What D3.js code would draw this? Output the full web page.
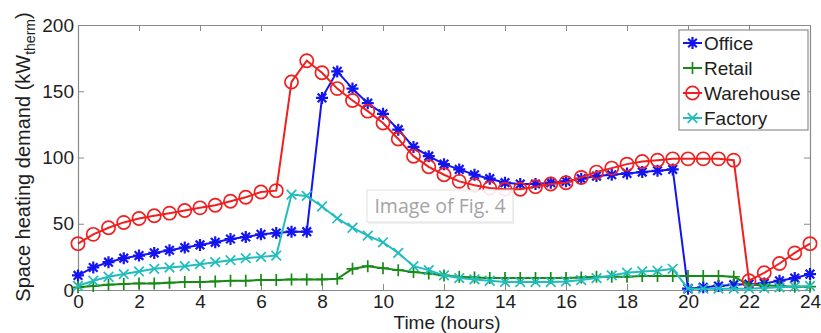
<!DOCTYPE html>
<html>
<head>
<meta charset="utf-8">
<script src="https://cdn.jsdelivr.net/npm/d3@7"></script>
<style>
  body { margin: 0; background: #fff; }
  svg { display: block; font-family: "Liberation Sans", Arial, sans-serif; }
</style>
</head>
<body>
<div id="chart"></div>
<script>
// time of day (hours), half-hour steps
var hours = [0, 0.5, 1, 1.5, 2, 2.5, 3, 3.5, 4, 4.5, 5, 5.5, 6, 6.5, 7, 7.5, 8, 8.5, 9, 9.5,
  10, 10.5, 11, 11.5, 12, 12.5, 13, 13.5, 14, 14.5, 15, 15.5, 16, 16.5, 17, 17.5, 18, 18.5, 19, 19.5,
  20, 20.5, 21, 21.5, 22, 22.5, 23, 23.5, 24];

var office = [11, 17, 21, 24, 26, 28, 30, 32, 34, 36, 38.5, 40, 42, 43, 44, 44, 145, 165, 152, 141,
  133, 121, 108, 101, 95, 91, 87, 84, 81, 80, 80, 81, 82, 84, 86, 87, 88, 89, 90, 91,
  1, 2, 3, 4, 4.5, 5, 7, 9, 12];
var retail = [2, 3, 4, 4.5, 5, 5, 5.5, 6, 6, 6.5, 7, 7, 7.5, 7.5, 8, 8, 8, 8.5, 16, 18,
  16.5, 15, 13.5, 12.5, 11, 10, 9.5, 9, 9, 9, 9, 9, 9, 9.5, 10, 10, 10, 10.5, 10.5, 10.5,
  10.5, 10.5, 10.5, 10, 4, 3.5, 3, 2.5, 2.5];
var warehouse = [35, 42, 47, 51, 54, 56, 58, 60, 62, 64, 67, 70, 74, 75, 157, 173, 164, 152, 143, 135,
  126, 114, 101, 93, 87, 82, 79, 77, 76, 76, 78, 80, 81, 85, 89, 92, 95, 97, 98, 99,
  99, 99, 99, 98, 7, 13, 20, 28, 35];
var factory = [3, 7, 10, 12, 14, 16, 17, 18, 19.5, 21, 22.5, 24, 25, 26, 72, 71, 63, 54, 47, 41,
  36, 28, 18, 15, 11, 9, 8, 7, 6, 6, 6, 6, 6.5, 7.5, 9, 11, 13, 14, 14.5, 16,
  1, 1, 1, 1, 1, 1.5, 2, 2.5, 3];

var seriesNames = ["Office", "Retail", "Warehouse", "Factory"];
var xTicks = [0, 2, 4, 6, 8, 10, 12, 14, 16, 18, 20, 22, 24];
var yTicks = [0, 50, 100, 150, 200];

var series = [
  { name: seriesNames[0], values: office, color: "#1414f0", marker: "star" },
  { name: seriesNames[1], values: retail, color: "#188a18", marker: "plus" },
  { name: seriesNames[2], values: warehouse, color: "#f02020", marker: "circle" },
  { name: seriesNames[3], values: factory, color: "#22bcbc", marker: "cross" }
];

var W = 821, H = 333;
var margin = { top: 25, right: 11, bottom: 43, left: 78 };
var width = W - margin.left - margin.right,
    height = H - margin.top - margin.bottom;

var x = d3.scaleLinear().domain([0, 24]).range([0, width]);
var y = d3.scaleLinear().domain([0, 200]).range([height, 0]);

var svg = d3.select("#chart").append("svg")
    .attr("width", W)
    .attr("height", H);
var g = svg.append("g")
    .attr("transform", "translate(" + margin.left + "," + margin.top + ")");

// marker paths
function markerPath(type, s) {
  var d = s * 0.72;
  if (type == "star") return "M" + (-s) + ",0H" + s + "M0," + (-s) + "V" + s +
    "M" + (-d) + "," + (-d) + "L" + d + "," + d + "M" + (-d) + "," + d + "L" + d + "," + (-d);
  if (type == "plus") return "M" + (-s) + ",0H" + s + "M0," + (-s) + "V" + s;
  if (type == "cross") return "M" + (-s) + "," + (-s) + "L" + s + "," + s + "M" + (-s) + "," + s + "L" + s + "," + (-s);
  return "";
}
var markerSize = { star: 6, plus: 6, cross: 4.8 };

function drawMarker(sel, type, color) {
  if (type == "circle") {
    sel.append("circle").attr("r", 6.6)
      .attr("fill", "none").attr("stroke", color).attr("stroke-width", 1.7);
  } else {
    sel.append("path").attr("d", markerPath(type, markerSize[type]))
      .attr("fill", "none").attr("stroke", color)
      .attr("stroke-width", type == "star" ? 2.2 : 1.7);
  }
}

// axes (MATLAB style: ticks inside, box all round)
var axisColor = "#8a8a8a", textColor = "#1e1e1e";

var xAxis = g.append("g").attr("transform", "translate(0," + height + ")")
  .call(d3.axisBottom(x).tickValues(xTicks).tickSizeInner(-6).tickSizeOuter(0).tickPadding(4));
var xTop = g.append("g")
  .call(d3.axisTop(x).tickValues(xTicks).tickSizeInner(-6).tickSizeOuter(0).tickFormat(""));
var yAxis = g.append("g")
  .call(d3.axisLeft(y).tickValues(yTicks).tickSizeInner(-6).tickSizeOuter(0).tickPadding(4));
var yRight = g.append("g").attr("transform", "translate(" + width + ",0)")
  .call(d3.axisRight(y).tickValues(yTicks).tickSizeInner(-6).tickSizeOuter(0).tickFormat(""));

[xAxis, xTop, yAxis, yRight].forEach(function(a) {
  a.select(".domain").attr("stroke", axisColor).attr("stroke-width", 1.2);
  a.selectAll(".tick line").attr("stroke", axisColor);
  a.selectAll("text").attr("font-size", "19px").attr("fill", textColor)
    .attr("font-family", "Liberation Sans, Arial, sans-serif");
});
xAxis.selectAll("text").attr("dy", "0.72em");

// lines and markers
var line = d3.line()
  .x(function(d, i) { return x(hours[i]); })
  .y(function(d) { return y(d); });

series.forEach(function(s) {
  var sg = g.append("g");
  sg.append("path").datum(s.values)
    .attr("d", line)
    .attr("fill", "none")
    .attr("stroke", s.color)
    .attr("stroke-width", 2);
  sg.selectAll("g.m").data(s.values).enter().append("g")
    .attr("class", "m")
    .attr("transform", function(d, i) { return "translate(" + x(hours[i]) + "," + y(d) + ")"; })
    .each(function() { drawMarker(d3.select(this), s.marker, s.color); });
});

// axis titles
svg.append("text")
  .attr("x", margin.left + width / 2 + 3)
  .attr("y", 329)
  .attr("text-anchor", "middle")
  .attr("font-size", "19px")
  .attr("fill", textColor)
  .text("Time (hours)");

var yl = svg.append("text")
  .attr("transform", "translate(30,157) rotate(-90)")
  .attr("text-anchor", "middle")
  .attr("font-size", "20px")
  .attr("fill", textColor);
yl.append("tspan").text("Space heating demand (kW");
yl.append("tspan").attr("font-size", "14px").attr("dy", "5").text("therm");
yl.append("tspan").attr("dy", "-5").text(")");

// legend
var lg = svg.append("g").attr("transform", "translate(679,30)");
lg.append("rect").attr("width", 129).attr("height", 100)
  .attr("fill", "#fff").attr("stroke", "#8f8f8f").attr("stroke-width", 1.2);
series.forEach(function(s, i) {
  var row = lg.append("g").attr("transform", "translate(0," + (13 + i * 25) + ")");
  row.append("line").attr("x1", 4).attr("x2", 23)
    .attr("stroke", s.color).attr("stroke-width", 2);
  var mk = row.append("g").attr("transform", "translate(13.5,0)");
  drawMarker(mk, s.marker, s.color);
  row.append("text").attr("x", 25).attr("y", 7)
    .attr("font-size", "19px").attr("fill", textColor)
    .text(s.name);
});

// watermark box
var wm = svg.append("g").attr("transform", "translate(367,190)");
wm.append("rect").attr("x", 1).attr("y", 2).attr("width", 146).attr("height", 32)
  .attr("fill", "#000").attr("opacity", 0.06);
wm.append("rect").attr("width", 146).attr("height", 32)
  .attr("fill", "#fff").attr("fill-opacity", 0.9).attr("stroke", "#e2e2e2");
wm.append("text").attr("x", 73).attr("y", 23).attr("text-anchor", "middle")
  .attr("font-size", "19.5px").attr("fill", "#a4a4a4")
  .attr("font-family", "Open Sans, Liberation Sans, sans-serif")
  .text("Image of Fig. 4");
</script>
</body>
</html>
